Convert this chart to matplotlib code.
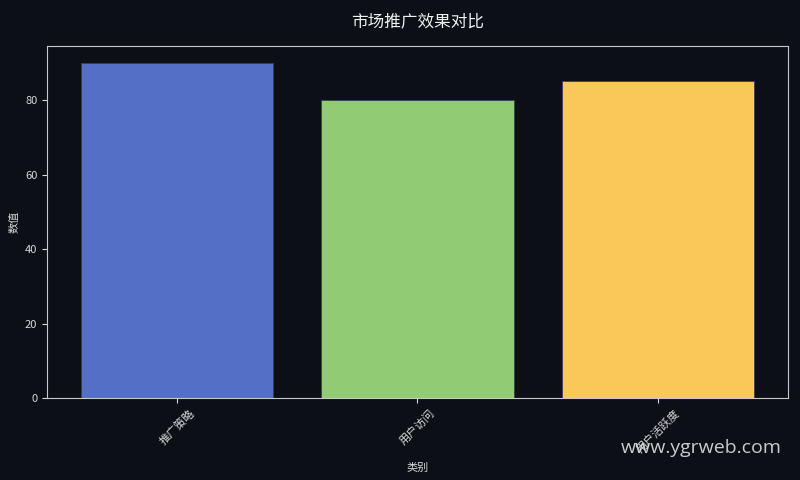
import matplotlib
matplotlib.use("Agg")
import matplotlib.pyplot as plt

plt.rcParams['font.family'] = ['Noto Sans CJK SC', 'DejaVu Sans']

categories = ['推广策略', '用户访问', '用户活跃度']
values = [90, 80, 85]
colors = ['#5470c6', '#91cc75', '#fac858']

bg = '#0c0f16'
fg = '#d8d8d8'

fig = plt.figure(figsize=(8, 4.8), dpi=100, facecolor=bg)
ax = fig.add_axes([47/800, 1-398/480, (788-47)/800, (398-46)/480])
ax.set_facecolor(bg)
ax.bar(categories, values, color=colors, width=0.8, edgecolor='#3a4050', linewidth=0.6)

ax.set_title('市场推广效果对比', color='#f0f0f0', fontsize=12, pad=14)
ax.set_xlabel('类别', color=fg, fontsize=8, labelpad=6)
ax.set_ylabel('数值', color=fg, fontsize=8)
ax.tick_params(colors=fg, labelsize=8)
plt.setp(ax.get_xticklabels(), rotation=45)
for s in ax.spines.values():
    s.set_color('#c8c8c8')

fig.text(701, 480-448, 'www.ygrweb.com', transform=None, ha='center', va='center',
         color='#e0e0e0', fontsize=14, family=['Open Sans', 'DejaVu Sans'], alpha=0.9)

fig.savefig('out.png', dpi=100, facecolor=bg)
